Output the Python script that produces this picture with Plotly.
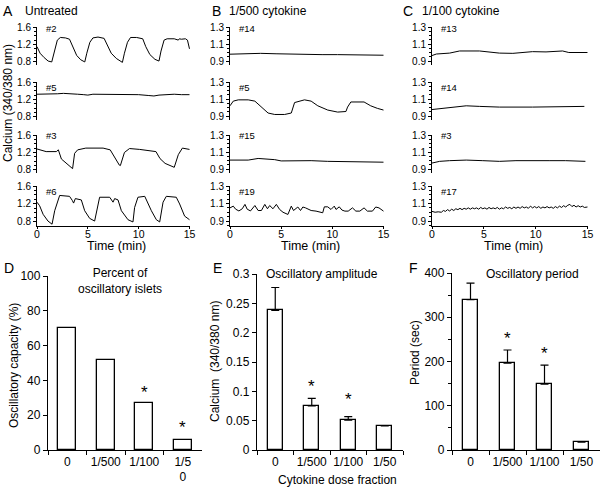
import plotly.graph_objects as go

W, H = 604, 491
FONT = "Arial, 'Liberation Sans', sans-serif"

# ---- calcium traces: (time min, 340/380 ratio) ----
A2 = [(0, 1.15), (0.3, 1.0), (0.7, 0.9), (1.1, 0.82), (1.45, 0.8), (1.7, 1.05), (2.0, 1.3),
      (2.3, 1.36), (2.8, 1.35), (3.2, 1.32), (3.5, 1.15), (3.9, 0.95), (4.3, 0.85), (4.7, 0.8),
      (4.9, 1.0), (5.2, 1.25), (5.5, 1.35), (6.0, 1.37), (6.6, 1.34), (6.9, 1.2), (7.3, 1.0),
      (7.8, 0.88), (8.4, 0.79), (8.6, 1.0), (8.9, 1.25), (9.2, 1.36), (9.8, 1.36), (10.4, 1.33),
      (10.7, 1.15), (11.1, 0.97), (11.6, 0.86), (12.0, 0.82), (12.2, 1.05), (12.5, 1.3),
      (12.8, 1.33), (13.5, 1.33), (13.9, 1.3), (14.0, 1.33), (14.2, 1.32), (14.6, 1.33),
      (14.8, 1.3), (15.0, 1.1)]
A5 = [(0, 1.32), (0.6, 1.32), (1.2, 1.33), (2.0, 1.33), (2.6, 1.34), (3.0, 1.33), (4.0, 1.32),
      (4.6, 1.31), (5.0, 1.3), (5.5, 1.32), (6.5, 1.32), (7.2, 1.31), (8.0, 1.31), (9.0, 1.31),
      (10.0, 1.31), (11.0, 1.29), (11.5, 1.28), (12.0, 1.3), (12.5, 1.31), (13.5, 1.32),
      (14.2, 1.31), (15.0, 1.31)]
A3 = [(0, 1.28), (0.9, 1.22), (1.9, 1.22), (2.1, 1.26), (2.4, 1.05), (2.9, 0.95), (3.4, 0.86),
      (3.5, 0.83), (3.7, 1.18), (4.0, 1.26), (4.8, 1.3), (6.0, 1.31), (6.5, 1.3), (7.2, 1.26),
      (7.6, 1.1), (8.1, 0.91), (8.2, 0.9), (8.6, 1.2), (9.1, 1.29), (10.1, 1.27), (11.7, 1.22),
      (12.1, 1.06), (12.6, 0.95), (13.3, 0.87), (13.5, 0.86), (13.9, 1.15), (14.3, 1.3),
      (15.0, 1.27)]
A6 = [(0, 1.24), (0.26, 1.16), (0.6, 0.97), (1.08, 0.82), (1.48, 0.75), (1.74, 1.05),
      (2.23, 1.39), (3.2, 1.37), (3.47, 1.28), (3.6, 1.22), (3.77, 1.32), (4.36, 1.29),
      (4.69, 1.05), (5.18, 0.88), (5.67, 0.82), (6.0, 1.22), (6.16, 1.35), (7.15, 1.35),
      (7.48, 1.24), (7.64, 1.32), (7.97, 1.29), (8.3, 1.05), (8.95, 0.85), (9.44, 0.8),
      (9.6, 1.12), (9.93, 1.35), (10.6, 1.37), (11.25, 1.05), (11.74, 0.85), (12.07, 0.8),
      (12.4, 1.24), (12.72, 1.37), (13.7, 1.35), (14.03, 1.2), (14.52, 0.93), (15.0, 0.85)]

B14 = [(0, 0.98), (1.5, 0.985), (3.0, 0.99), (4.5, 0.985), (6.0, 0.98), (7.5, 0.978),
       (9.0, 0.975), (10.5, 0.975), (12.0, 0.97), (13.5, 0.97), (15.0, 0.968)]
B5 = [(0, 1.02), (0.32, 1.075), (0.81, 1.09), (1.78, 1.09), (2.43, 1.075), (3.07, 1.005),
      (3.72, 0.935), (4.37, 0.918), (5.34, 0.918), (5.99, 0.935), (6.15, 1.005), (6.31, 1.058),
      (7.28, 1.09), (7.93, 1.075), (8.58, 1.02), (9.55, 0.97), (10.52, 0.946), (11.33, 0.953),
      (11.49, 1.005), (11.81, 1.065), (13.1, 1.065), (13.75, 1.02), (14.4, 0.99), (15.0, 0.97)]
B15 = [(0, 1.005), (1.78, 1.005), (2.75, 1.024), (4.37, 1.01), (5.0, 0.995), (7.93, 0.998),
       (9.55, 0.99), (12.8, 0.987), (15.0, 0.98)]
B19 = [(0, 1.05), (0.32, 1.07), (0.55, 1.035), (0.87, 1.015), (1.2, 1.04), (1.46, 1.09),
       (1.68, 1.035), (2.0, 1.015), (2.43, 1.077), (2.75, 1.02), (3.07, 1.02), (3.4, 1.09),
       (3.66, 1.04), (3.88, 1.077), (4.2, 1.04), (4.53, 1.09), (4.85, 1.032), (5.18, 1.0),
       (5.66, 0.975), (5.99, 1.07), (6.21, 1.02), (6.63, 1.06), (6.89, 1.02), (7.12, 1.06),
       (7.38, 1.05), (7.6, 1.04), (7.93, 1.02), (8.41, 1.013), (8.9, 1.0), (9.06, 0.994),
       (9.22, 1.062), (9.55, 1.062), (9.87, 1.032), (10.19, 1.07), (10.36, 1.032),
       (10.68, 1.062), (10.94, 1.025), (11.23, 1.013), (11.55, 1.013), (11.97, 1.05),
       (12.3, 1.013), (12.69, 1.013), (13.1, 1.05), (13.43, 1.013), (13.92, 1.013),
       (14.24, 1.06), (14.56, 1.05), (15.0, 1.013)]

C13 = [(0, 0.964), (0.42, 0.982), (1.7, 0.993), (2.66, 1.018), (4.58, 1.018), (6.5, 0.993),
       (7.8, 0.99), (9.7, 1.01), (11.0, 1.007), (12.6, 1.018), (13.2, 1.0), (15.0, 1.0)]
C14 = [(0, 0.976), (1.06, 0.99), (2.0, 1.005), (3.3, 1.02), (4.6, 1.013), (6.5, 1.005),
       (9.7, 1.005), (12.9, 1.013), (14.7, 1.013)]
C3 = [(0, 0.97), (0.42, 0.98), (0.74, 0.99), (1.7, 0.998), (3.3, 1.005), (4.9, 0.998),
      (6.5, 0.99), (8.1, 0.998), (9.7, 0.995), (11.3, 0.998), (12.9, 0.998), (14.8, 0.99)]
C17 = [(0, 1.01), (0.3, 1.0), (0.6, 1.005), (0.9, 1.0), (1.1, 1.02), (1.3, 1.01), (1.5, 1.03),
       (1.7, 1.015), (1.9, 1.035), (2.1, 1.02), (2.3, 1.04), (2.5, 1.03), (2.7, 1.045),
       (2.9, 1.03), (3.1, 1.045), (3.3, 1.035), (3.5, 1.05), (3.7, 1.035), (3.9, 1.05),
       (4.1, 1.04), (4.3, 1.05), (4.5, 1.035), (4.7, 1.055), (4.9, 1.04), (5.1, 1.05),
       (5.3, 1.035), (5.5, 1.055), (5.7, 1.04), (5.9, 1.05), (6.1, 1.04), (6.3, 1.055),
       (6.5, 1.035), (6.7, 1.05), (6.9, 1.04), (7.1, 1.06), (7.3, 1.045), (7.5, 1.055),
       (7.7, 1.04), (7.9, 1.06), (8.1, 1.045), (8.3, 1.06), (8.5, 1.045), (8.7, 1.065),
       (8.9, 1.05), (9.1, 1.06), (9.3, 1.045), (9.5, 1.07), (9.7, 1.05), (9.9, 1.065),
       (10.1, 1.05), (10.3, 1.065), (10.5, 1.045), (10.7, 1.06), (10.9, 1.05), (11.1, 1.065),
       (11.3, 1.05), (11.5, 1.06), (11.7, 1.045), (11.9, 1.065), (12.1, 1.05), (12.3, 1.07),
       (12.5, 1.055), (12.7, 1.075), (12.9, 1.06), (13.1, 1.08), (13.3, 1.09), (13.5, 1.065),
       (13.7, 1.08), (13.9, 1.06), (14.1, 1.075), (14.3, 1.06), (14.5, 1.07), (14.7, 1.055),
       (15.0, 1.06)]

# ---- summary bars ----
DOSE_LABELS = ["0", "1/500", "1/100", "1/50"]
D_LABELS = ["0", "1/500", "1/100", "1/5<br>0"]
PCT_OSC = [70, 52, 27, 6]
PCT_STAR = [None, None, 33, 13]
AMP = [0.238, 0.075, 0.051, 0.041]
AMP_ERR = [0.039, 0.013, 0.006, None]
AMP_STAR = [None, 0.109, 0.086, None]
PERIOD = [340, 196, 149, 18]
PERIOD_ERR = [37, 30, 43, None]
PERIOD_STAR = [None, 253, 219, None]

COLUMNS = [
    ("A", "Untreated", [("#2", A2), ("#5", A5), ("#3", A3), ("#6", A6)]),
    ("B", "1/500 cytokine", [("#14", B14), ("#5", B5), ("#15", B15), ("#19", B19)]),
    ("C", "1/100 cytokine", [("#13", C13), ("#14", C14), ("#3", C3), ("#17", C17)]),
]


def xdom(left, right):
    return [left / W, right / W]


def ydom(top, bottom):
    return [1 - bottom / H, 1 - top / H]


col_px = [(37, 190), (230, 384), (432, 588)]
row_px = [(27, 65), (82, 120), (135, 173), (186, 226)]
label_y = [28, 87, 135, 191]
# y ranges: rows 1-3 / bottom row
yr_a = ([0.73, 1.6], [0.71, 1.6])
yr_bc = ([0.853, 1.3], [0.843, 1.3])

fig = go.Figure()
layout = {}
annotations = []


def ann(text, x, y, size=12, **kw):
    d = dict(text=text, x=x / W, y=1 - y / H, xref="paper", yref="paper", showarrow=False,
             xanchor="center", yanchor="middle",
             font=dict(size=size, family=FONT, color="black"))
    d.update(kw)
    annotations.append(d)


for ci, (letter, title, traces) in enumerate(COLUMNS):
    cl, cr = col_px[ci]
    for ri, (tag, pts) in enumerate(traces):
        n = ci * 4 + ri + 1
        sfx = "" if n == 1 else str(n)
        t = [p[0] for p in pts]
        v = [p[1] for p in pts]
        fig.add_trace(go.Scatter(x=t, y=v, mode="lines", line=dict(color="black", width=1),
                                 xaxis="x" + sfx, yaxis="y" + sfx, showlegend=False,
                                 hoverinfo="skip"))
        last = ri == 3
        layout["xaxis" + sfx] = dict(
            domain=xdom(cl, cr), anchor="y" + sfx, range=[0, 15.05], visible=last,
            showline=True, linecolor="black", linewidth=1, ticks="outside", ticklen=2,
            tickcolor="black", tickvals=[0, 5, 10, 15], showgrid=False, zeroline=False,
            ticklabelstandoff=-4, automargin=False,
            tickfont=dict(size=10.5, family=FONT, color="black"),
        )
        if ci == 0:
            rng = yr_a[1] if last else yr_a[0]
            major, minor, t0 = 0.4, 0.1, 0.8
        else:
            rng = yr_bc[1] if last else yr_bc[0]
            major, minor, t0 = 0.2, 0.05, 0.9
        layout["yaxis" + sfx] = dict(
            domain=ydom(*row_px[ri]), anchor="x" + sfx, range=rng, showline=True,
            linecolor="black", linewidth=1, ticks="outside", ticklen=3, tickcolor="black",
            tick0=t0, dtick=major, showgrid=False, zeroline=False, automargin=False,
            minor=dict(ticks="outside", ticklen=2, tick0=t0, dtick=minor, tickcolor="black"),
            tickfont=dict(size=10, family=FONT, color="black"),
        )
        ann(tag, cl + 7, label_y[ri], size=9.5, xanchor="left")
    ann("Time (min)", (cl + cr) / 2 + 3, 246, size=12.5)

ann("A", 8, 11, size=14)
ann("Untreated", 51, 11, size=12)
ann("B", 216, 11, size=14)
ann("1/500 cytokine", 268, 11, size=12)
ann("C", 408, 11, size=14)
ann("1/100 cytokine", 461, 11, size=12)
ann("Calcium (340/380 nm)", 8, 103, size=12, textangle=-90)

# ---- bottom bar panels ----
bar_line = dict(color="black", width=1.3)
panels = [
    (13, D_LABELS, PCT_OSC, None, PCT_STAR, 0.47, (48, 202), (276, 450), [0, 100], 20, None),
    (14, DOSE_LABELS, AMP, AMP_ERR, AMP_STAR, 0.41, (257, 403), (274, 450), [0, 0.3], 0.05, None),
    (15, DOSE_LABELS, PERIOD, PERIOD_ERR, PERIOD_STAR, 0.41, (452, 600), (273, 450), [0, 400], 100, 50),
]
for n, cats, vals, errs, stars, bw, xs, ys, yr, dt, mdt in panels:
    sfx = str(n)
    err = None
    if errs is not None:
        err = dict(type="data", symmetric=False, array=errs, arrayminus=[0] * len(errs),
                   color="black", thickness=1.2, width=4)
    fig.add_trace(go.Bar(x=cats, y=vals, width=bw, error_y=err,
                         marker=dict(color="white", line=bar_line),
                         xaxis="x" + sfx, yaxis="y" + sfx, showlegend=False, hoverinfo="skip"))
    layout["xaxis" + sfx] = dict(
        domain=xdom(*xs), anchor="y" + sfx, type="category", range=[-0.5, 3.5],
        showline=True, linecolor="black", linewidth=1.3, ticks="outside", ticklen=4,
        tickcolor="black", tickwidth=1.3, tickson="boundaries", showgrid=False, tickangle=0,
        automargin=False, tickfont=dict(size=12, family=FONT, color="black"),
    )
    ya = dict(
        domain=ydom(*ys), anchor="x" + sfx, range=yr, dtick=dt, showline=True,
        linecolor="black", linewidth=1.3, ticks="outside", ticklen=4, tickwidth=1.3,
        tickcolor="black", showgrid=False, zeroline=False, automargin=False,
        tickfont=dict(size=12, family=FONT, color="black"),
    )
    if mdt:
        ya["minor"] = dict(ticks="outside", ticklen=3, dtick=mdt, tickcolor="black")
    layout["yaxis" + sfx] = ya
    for i, s in enumerate(stars):
        if s is not None:
            annotations.append(dict(text="*", x=i, y=s, xref="x" + sfx, yref="y" + sfx,
                                    showarrow=False, yanchor="middle",
                                    font=dict(size=17, family=FONT, color="black")))

ann("D", 9, 268, size=14)
ann("Percent of<br>oscillatory islets", 120, 281, size=12)
ann("Oscillatory capacity (%)", 14, 366, size=12, textangle=-90)
ann("E", 217, 268, size=14)
ann("Oscillatory amplitude", 322, 274, size=12)
ann("Calcium  (340/380 nm)", 215, 362, size=12, textangle=-90)
ann("Cytokine dose fraction", 337, 480, size=12)
ann("F", 414, 268, size=14)
ann("Oscillatory period", 532, 274, size=12)
ann("Period (sec)", 415, 353, size=12, textangle=-90)

fig.update_layout(
    width=W, height=H, margin=dict(l=0, r=0, t=0, b=0),
    paper_bgcolor="white", plot_bgcolor="white",
    font=dict(family=FONT, color="black"),
    annotations=annotations, bargap=0, **layout,
)

# the page's default body margin would shift the fixed-size figure off the window
fig.write_html("out.html", config={"displayModeBar": False},
               post_script="document.body.style.margin = '0';")
